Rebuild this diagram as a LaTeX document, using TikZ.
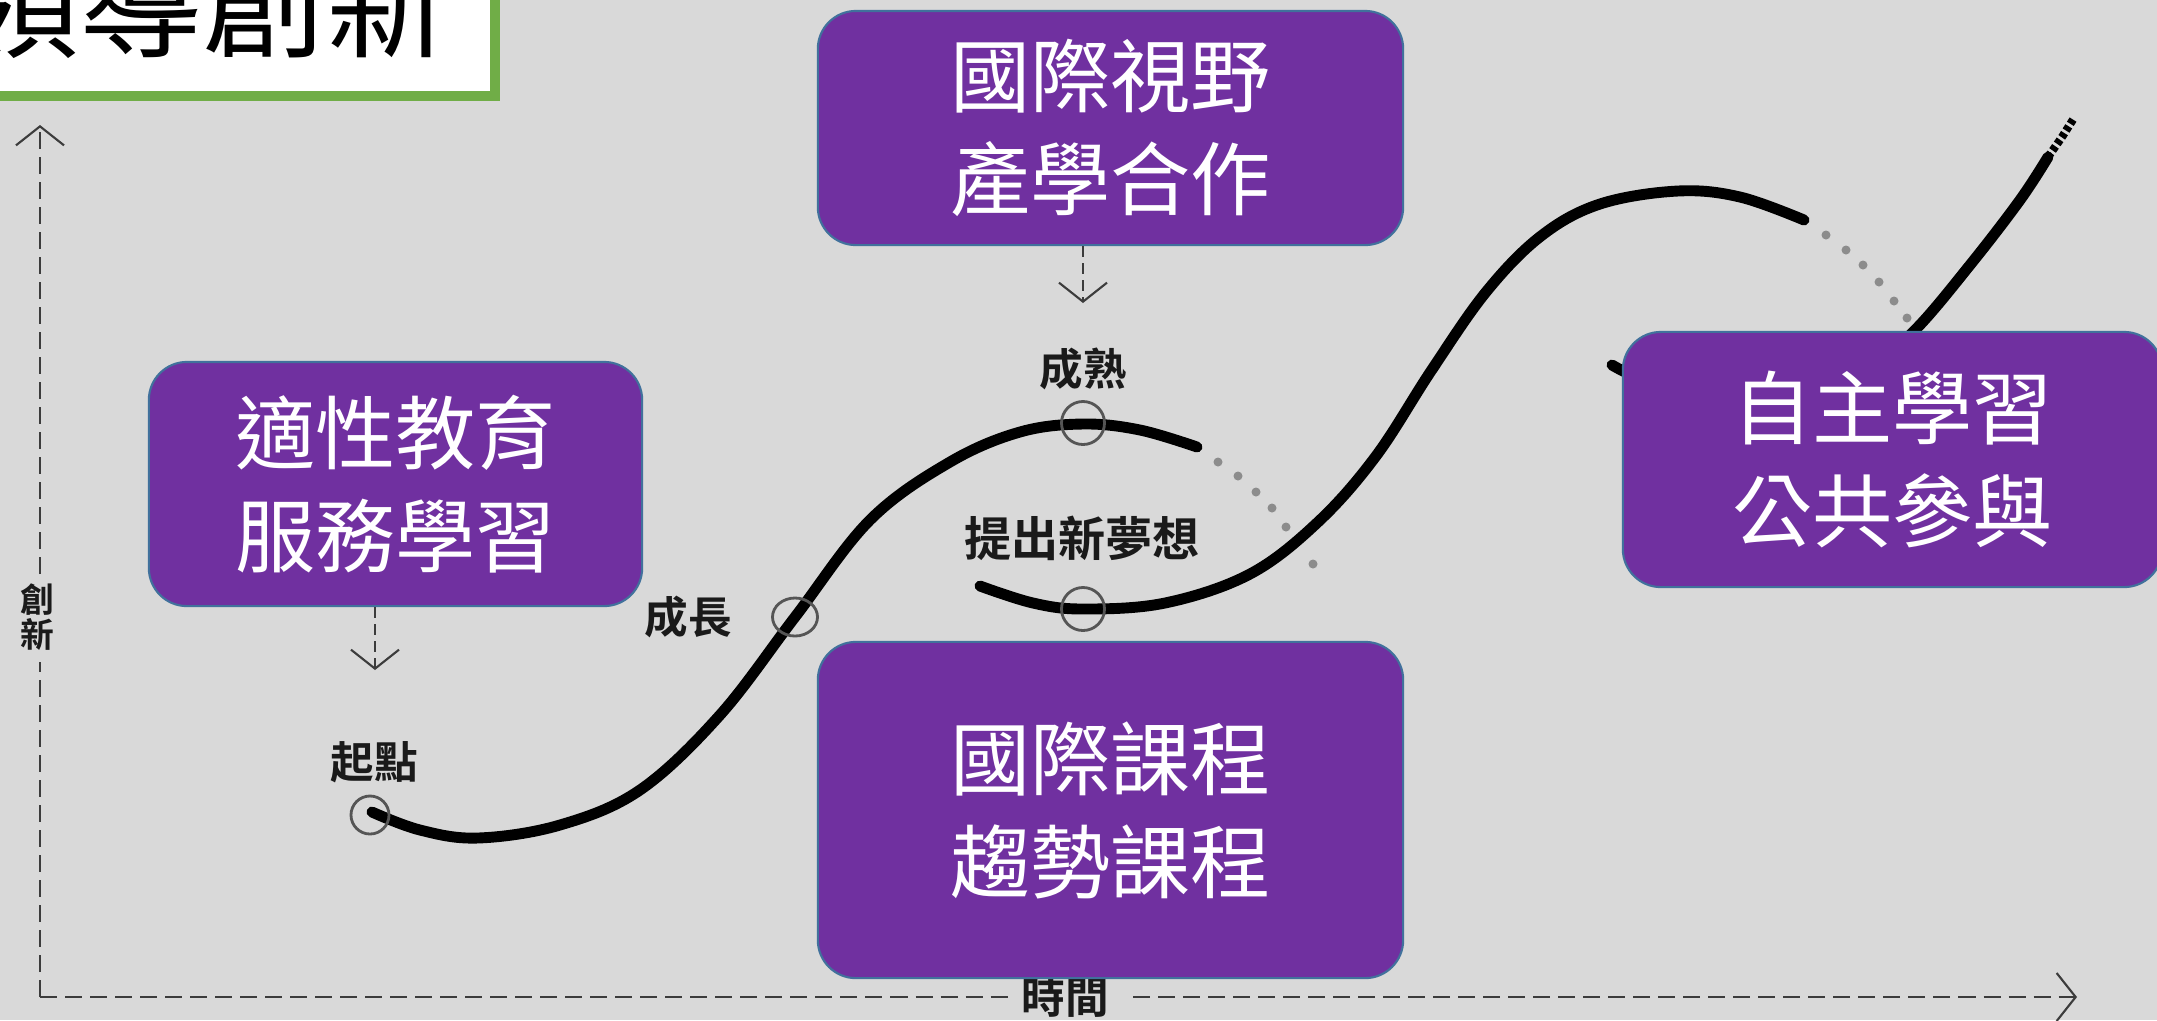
\documentclass[tikz,border=0pt]{standalone}
\usepackage{fontspec}
\setmainfont{Noto Sans CJK TC}
\newfontfamily\cjkb{Noto Sans CJK TC Bold}
\usetikzlibrary{arrows.meta,shapes.geometric}
\definecolor{bggray}{HTML}{D9D9D9}
\definecolor{boxpurple}{HTML}{7030A0}
\definecolor{boxedge}{HTML}{41719C}
\definecolor{titlegreen}{HTML}{70AD47}
\definecolor{axisc}{HTML}{3C3C3C}
\definecolor{ringc}{HTML}{555555}
\definecolor{dotgray}{HTML}{8C8C8C}
\definecolor{labelc}{HTML}{1A1A1A}
\begin{document}
\begin{tikzpicture}[x=0.01cm,y=-0.01cm,
  purplebox/.style={draw=boxedge, fill=boxpurple, line width=0.6pt, rounded corners=0.38cm,
    text=white, align=center, inner sep=0pt, font=\fontsize{22.8}{29.3}\selectfont},
  lbl/.style={font=\cjkb\fontsize{12.4}{12.4}\selectfont, text=labelc, inner sep=0pt},
  axisline/.style={draw=axisc, line width=0.7pt, dash pattern=on 0.17cm off 0.08cm},
  smallarrow/.style={draw=axisc, line width=0.6pt, dash pattern=on 0.11cm off 0.06cm},
  tipV/.style={-{Straight Barb[length=0.19cm,width=0.48cm,line width=0.6pt]}},
  curve/.style={line width=3.1pt, line cap=round, black},
  ring/.style={draw=ringc, line width=0.8pt, inner sep=0pt}
]
\useasboundingbox (0,0) rectangle (2157,1020);
\clip (0,0) rectangle (2157,1020);
\fill[bggray] (0,0) rectangle (2157,1020);

% title box (clipped)
\fill[white] (-30,-30) rectangle (495,96);
\draw[titlegreen, line width=3.1pt] (-30,96) -- (495,96) -- (495,-30);
\node[anchor=base, inner sep=0pt, font=\fontsize{35}{35}\selectfont] (title) at (203,48) {領導創新};

% axes
\coordinate (origin) at (40,997);
\coordinate (ytip) at (40,125);
\coordinate (xtip) at (2077,997);
\node[lbl, font=\cjkb\fontsize{9.6}{10}\selectfont, align=center] (ylbl) at (37,617) {創\\新};
\node[lbl] (xlbl) at (1065,997) {時間};
\draw[axisline] (origin) -- (40,662);
\draw[axisline, tipV] (40,574) -- (ytip);
\draw[axisline] (origin) -- (1012,997);
\draw[axisline, tipV] (1133,997) -- (xtip);

% curves
\draw[curve] plot[smooth, tension=0.6] coordinates {(372,812) (420,830) (478,838) (560,825) (640,790) (720,715) (795,617) (870,520) (950,462) (1020,432) (1083,424) (1140,430) (1197,447)};
\draw[curve] plot[smooth, tension=0.6] coordinates {(980,586) (1033,603) (1083,609) (1165,603) (1250,574) (1318,522) (1376,456) (1431,371) (1486,292) (1541,236) (1600,204) (1678,191) (1740,197) (1804,220)};
\draw[curve] plot[smooth, tension=0.6] coordinates {(1612,365) (1650,382) (1720,395) (1800,385) (1870,365) (1915,330) (1970,265) (2020,200) (2048,157)};
\draw[line width=2.3pt, dash pattern=on 0.05cm off 0.03cm] (2048,157) -- (2062,137) -- (2074,118);

% dots
\foreach \p in {(1218,462),(1238,476),(1256,492),(1272,508),(1286,527),(1313,564),
                (1826,235),(1846,250),(1863,265),(1879,282),(1894,301),(1907,318)}
  \fill[dotgray] \p circle[radius=0.045cm];

% rings
\node[ring, circle, minimum size=0.38cm] (start) at (370,815) {};
\node[ring, ellipse, minimum width=0.45cm, minimum height=0.38cm] (grow) at (795,617) {};
\node[ring, circle, minimum size=0.43cm] (mature) at (1083,423) {};
\node[ring, circle, minimum size=0.43cm] (dream) at (1083,609) {};

% labels
\node[lbl] (lstart) at (374,762) {起點};
\node[lbl] (lgrow) at (688,617) {成長};
\node[lbl] (lmature) at (1083,369) {成熟};
\node[lbl, font=\cjkb\fontsize{13.4}{13.4}\selectfont] (ldream) at (1082,538) {提出新夢想};

% purple boxes
\node[purplebox, minimum width=4.93cm, minimum height=2.44cm] (boxA) at (395.5,484) {適性教育\\服務學習};
\node[purplebox, minimum width=5.85cm, minimum height=2.34cm] (boxB) at (1110.5,128) {國際視野\\產學合作};
\node[purplebox, minimum width=5.85cm, minimum height=3.36cm] (boxC) at (1110.5,810) {國際課程\\趨勢課程};
\node[purplebox, minimum width=5.39cm, minimum height=2.55cm] (boxD) at (1892.5,459.5) {自主學習\\公共參與};

% small arrows
\coordinate (tipA) at (375,670);
\coordinate (tipB) at (1083,303);
\draw[smallarrow, tipV] (boxA.south -| tipA) -- (tipA);
\draw[smallarrow, tipV] (boxB.south -| tipB) -- (tipB);
\end{tikzpicture}
\end{document}
